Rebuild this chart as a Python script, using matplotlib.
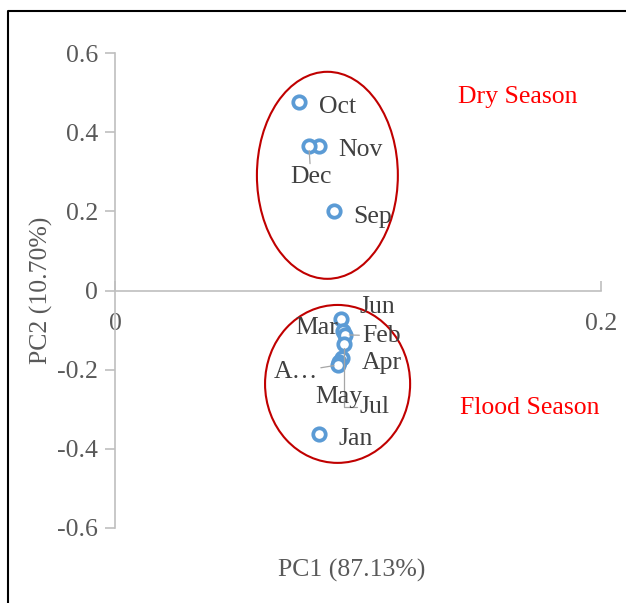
import numpy as np
import matplotlib
matplotlib.use("Agg")
import matplotlib.pyplot as plt
from matplotlib.patches import Ellipse
from matplotlib.lines import Line2D

plt.rcParams['font.family'] = ['Liberation Serif', 'DejaVu Serif']

# PCA scores per month
months = ["Oct", "Nov", "Dec", "Sep", "Jun", "Mar", "Feb", "Jul", "Apr", "May", "A…", "Jan"]
pc1 = [0.0757, 0.0840, 0.0798, 0.0901, 0.0930, 0.0938, 0.0947, 0.0942, 0.0934, 0.0922, 0.0918, 0.0840]
pc2 = [0.476, 0.364, 0.364, 0.200, -0.072, -0.102, -0.112, -0.135, -0.170, -0.180, -0.188, -0.362]

# season groupings (center x, center y, width, height)
seasons = ["Dry Season", "Flood Season"]
ell_x = [0.0874, 0.0916]
ell_y = [0.291, -0.236]
ell_w = [0.058, 0.0597]
ell_h = [0.523, 0.399]

xticks = [0, 0.2]
yticks = [-0.6, -0.4, -0.2, 0, 0.2, 0.4, 0.6]

# label offsets in pixels: (dx, dy, ha, leader line style)
offsets = {
    "Oct": (20, -5, "left", None),
    "Nov": (19, -4, "left", None),
    "Dec": (2, -31, "center", "arc3"),
    "Sep": (19, -6, "left", None),
    "Jun": (19, 12, "left", None),
    "Mar": (-5, 3, "right", None),
    "Feb": (17, -1, "left", "arc3"),
    "Jul": (16, -63, "left", "angle,angleA=180,angleB=-90,rad=0"),
    "Apr": (20, -5, "left", None),
    "May": (0, -35, "center", None),
    "A…": (-20, -7, "right", "arc3"),
    "Jan": (19, -5, "left", None),
}

grey = "#595959"
lblcol = "#404040"
axcol = "#BFBFBF"
fs = 18.5

fig = plt.figure(figsize=(6.26, 6.03), dpi=100)
ax = fig.add_axes([115 / 626, 1 - 528 / 603, 486 / 626, 475 / 603])

ax.scatter(pc1, pc2, s=80, facecolors="white", edgecolors="#5B9BD5", linewidths=2.7, zorder=3)

for m, x, y in zip(months, pc1, pc2):
    dx, dy, ha, lead = offsets[m]
    ap = None
    if lead:
        ap = dict(arrowstyle="-", color="#A6A6A6", lw=0.9, shrinkA=0, shrinkB=3,
                  connectionstyle=lead)
    ax.annotate(m, (x, y), xytext=(dx, dy), textcoords="offset pixels",
                ha=ha, va="center", fontsize=fs, color=lblcol,
                arrowprops=ap, zorder=4)

for cx, cy, w, h in zip(ell_x, ell_y, ell_w, ell_h):
    ax.add_patch(Ellipse((cx, cy), w, h, fill=False, edgecolor="#C00000", lw=1.5, zorder=2))

ax.text(0.1658, 0.489, seasons[0], color="red", fontsize=fs, ha="center", va="center")
ax.text(0.1708, -0.296, seasons[1], color="red", fontsize=fs, ha="center", va="center")

ax.set_xlim(0, 0.2)
ax.set_ylim(-0.6, 0.6)
ax.spines["left"].set_position(("data", 0))
ax.spines["bottom"].set_position(("data", 0))
ax.spines["top"].set_visible(False)
ax.spines["right"].set_visible(False)
for s in ["left", "bottom"]:
    ax.spines[s].set_color(axcol)
    ax.spines[s].set_linewidth(1.2)

ax.set_xticks(xticks)
ax.set_xticklabels(["0", "0.2"])
ax.set_yticks(yticks)
ax.set_yticklabels(["-0.6", "-0.4", "-0.2", "0", "0.2", "0.4", "0.6"])
ax.tick_params(axis="x", direction="in", length=7, width=1.2, color=axcol, pad=16,
               labelsize=fs, labelcolor=grey)
ax.tick_params(axis="y", direction="out", length=7, width=1.2, color=axcol, pad=5,
               labelsize=fs, labelcolor=grey)

fig.text(41 / 626, 1 - 290 / 603, "PC2 (10.70%)", rotation=90, ha="center", va="center",
         fontsize=fs, color=grey)
fig.text(352 / 626, 1 - 570 / 603, "PC1 (87.13%)", ha="center", va="center",
         fontsize=fs, color=grey)

# outer frame (left and top edges visible)
fx = 8 / 626
fy = 1 - 11 / 603
fig.add_artist(Line2D([fx, fx, 1], [0, fy, fy], transform=fig.transFigure, color="black", lw=1.5))

fig.savefig("out.png", dpi=100)
